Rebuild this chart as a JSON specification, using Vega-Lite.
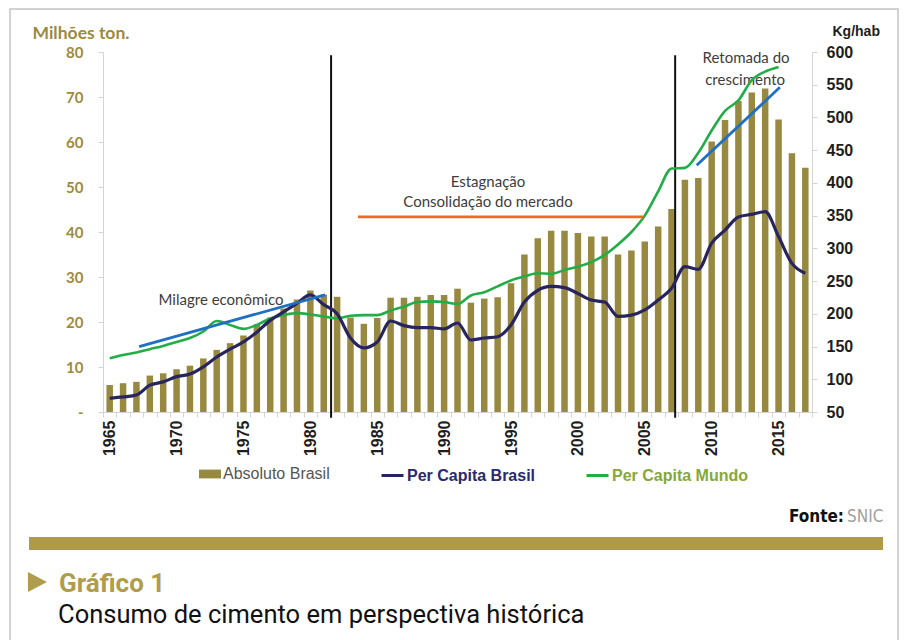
{
  "$schema": "https://vega.github.io/schema/vega-lite/v6.json",
  "width": 709,
  "height": 360,
  "autosize": {"type": "none"},
  "padding": {"left": 103, "top": 52, "right": 92, "bottom": 228},
  "background": "white",
  "config": {
    "view": {"stroke": null},
    "font": "Liberation Sans",
    "axis": {"labelOverlap": false, "labelFlush": false, "labelBound": false, "grid": false}
  },
  "datasets": {
    "serie": [
      {"ano": 1965, "absoluto": 6.0, "pcBrasil": 71, "pcMundo": 132},
      {"ano": 1966, "absoluto": 6.4, "pcBrasil": 73, "pcMundo": 137},
      {"ano": 1967, "absoluto": 6.7, "pcBrasil": 76, "pcMundo": 141},
      {"ano": 1968, "absoluto": 8.1, "pcBrasil": 91, "pcMundo": 146},
      {"ano": 1969, "absoluto": 8.6, "pcBrasil": 96, "pcMundo": 151},
      {"ano": 1970, "absoluto": 9.5, "pcBrasil": 104, "pcMundo": 157},
      {"ano": 1971, "absoluto": 10.3, "pcBrasil": 108, "pcMundo": 163},
      {"ano": 1972, "absoluto": 11.9, "pcBrasil": 119, "pcMundo": 173},
      {"ano": 1973, "absoluto": 13.8, "pcBrasil": 134, "pcMundo": 189},
      {"ano": 1974, "absoluto": 15.3, "pcBrasil": 146, "pcMundo": 183},
      {"ano": 1975, "absoluto": 17.0, "pcBrasil": 157, "pcMundo": 177},
      {"ano": 1976, "absoluto": 19.5, "pcBrasil": 172, "pcMundo": 183},
      {"ano": 1977, "absoluto": 21.0, "pcBrasil": 190, "pcMundo": 193},
      {"ano": 1978, "absoluto": 23.0, "pcBrasil": 203, "pcMundo": 198},
      {"ano": 1979, "absoluto": 25.0, "pcBrasil": 216, "pcMundo": 201},
      {"ano": 1980, "absoluto": 27.0, "pcBrasil": 229, "pcMundo": 199},
      {"ano": 1981, "absoluto": 26.1, "pcBrasil": 214, "pcMundo": 196},
      {"ano": 1982, "absoluto": 25.6, "pcBrasil": 200, "pcMundo": 193},
      {"ano": 1983, "absoluto": 21.0, "pcBrasil": 163, "pcMundo": 197},
      {"ano": 1984, "absoluto": 19.6, "pcBrasil": 148, "pcMundo": 198},
      {"ano": 1985, "absoluto": 20.9, "pcBrasil": 157, "pcMundo": 198},
      {"ano": 1986, "absoluto": 25.4, "pcBrasil": 189, "pcMundo": 205},
      {"ano": 1987, "absoluto": 25.4, "pcBrasil": 182, "pcMundo": 211},
      {"ano": 1988, "absoluto": 25.6, "pcBrasil": 179, "pcMundo": 218},
      {"ano": 1989, "absoluto": 26.0, "pcBrasil": 179, "pcMundo": 219},
      {"ano": 1990, "absoluto": 26.0, "pcBrasil": 177, "pcMundo": 218},
      {"ano": 1991, "absoluto": 27.4, "pcBrasil": 186, "pcMundo": 215},
      {"ano": 1992, "absoluto": 24.3, "pcBrasil": 160, "pcMundo": 228},
      {"ano": 1993, "absoluto": 25.2, "pcBrasil": 163, "pcMundo": 233},
      {"ano": 1994, "absoluto": 25.5, "pcBrasil": 165, "pcMundo": 242},
      {"ano": 1995, "absoluto": 28.6, "pcBrasil": 183, "pcMundo": 251},
      {"ano": 1996, "absoluto": 35.0, "pcBrasil": 218, "pcMundo": 257},
      {"ano": 1997, "absoluto": 38.6, "pcBrasil": 236, "pcMundo": 262},
      {"ano": 1998, "absoluto": 40.3, "pcBrasil": 242, "pcMundo": 261},
      {"ano": 1999, "absoluto": 40.3, "pcBrasil": 240, "pcMundo": 267},
      {"ano": 2000, "absoluto": 39.8, "pcBrasil": 231, "pcMundo": 272},
      {"ano": 2001, "absoluto": 39.0, "pcBrasil": 221, "pcMundo": 279},
      {"ano": 2002, "absoluto": 39.0, "pcBrasil": 218, "pcMundo": 290},
      {"ano": 2003, "absoluto": 35.0, "pcBrasil": 196, "pcMundo": 306},
      {"ano": 2004, "absoluto": 35.9, "pcBrasil": 198, "pcMundo": 325},
      {"ano": 2005, "absoluto": 37.9, "pcBrasil": 206, "pcMundo": 350},
      {"ano": 2006, "absoluto": 41.2, "pcBrasil": 221, "pcMundo": 387},
      {"ano": 2007, "absoluto": 45.1, "pcBrasil": 239, "pcMundo": 422},
      {"ano": 2008, "absoluto": 51.6, "pcBrasil": 272, "pcMundo": 423},
      {"ano": 2009, "absoluto": 52.0, "pcBrasil": 268, "pcMundo": 446},
      {"ano": 2010, "absoluto": 60.1, "pcBrasil": 308, "pcMundo": 480},
      {"ano": 2011, "absoluto": 64.9, "pcBrasil": 328, "pcMundo": 510},
      {"ano": 2012, "absoluto": 69.1, "pcBrasil": 348, "pcMundo": 526},
      {"ano": 2013, "absoluto": 71.0, "pcBrasil": 352, "pcMundo": 557},
      {"ano": 2014, "absoluto": 71.9, "pcBrasil": 356, "pcMundo": 570},
      {"ano": 2015, "absoluto": 65.0, "pcBrasil": 318, "pcMundo": 577},
      {"ano": 2016, "absoluto": 57.5, "pcBrasil": 277},
      {"ano": 2017, "absoluto": 54.3, "pcBrasil": 262}
    ],
    "tendencias": [
      {"trecho": "milagre", "tipo": "azul", "ano": 1967.2, "kg": 150},
      {"trecho": "milagre", "tipo": "azul", "ano": 1981.1, "kg": 229},
      {"trecho": "consolidacao", "tipo": "laranja", "ano": 1983.56, "kg": 348},
      {"trecho": "consolidacao", "tipo": "laranja", "ano": 2004.87, "kg": 348},
      {"trecho": "retomada", "tipo": "azul", "ano": 2008.88, "kg": 427},
      {"trecho": "retomada", "tipo": "azul", "ano": 2015.1, "kg": 546}
    ],
    "marcos": [{"ano": 1981.55}, {"ano": 2007.27}]
  },
  "layer": [
    {
      "layer": [
        {
          "data": {"name": "serie"},
          "mark": {"type": "bar", "size": 6.5},
          "encoding": {
            "x": {
              "field": "ano", "type": "quantitative",
              "scale": {"domain": [1964.5, 2017.5], "nice": false, "zero": false, "padding": 0},
              "axis": {
                "values": [1964.5,1965.5,1966.5,1967.5,1968.5,1969.5,1970.5,1971.5,1972.5,1973.5,1974.5,1975.5,1976.5,1977.5,1978.5,1979.5,1980.5,1981.5,1982.5,1983.5,1984.5,1985.5,1986.5,1987.5,1988.5,1989.5,1990.5,1991.5,1992.5,1993.5,1994.5,1995.5,1996.5,1997.5,1998.5,1999.5,2000.5,2001.5,2002.5,2003.5,2004.5,2005.5,2006.5,2007.5,2008.5,2009.5,2010.5,2011.5,2012.5,2013.5,2014.5,2015.5,2016.5,2017.5],
                "tickCount": 200,
                "labelExpr": "(datum.value + 0.5) % 5 === 0 ? format(datum.value + 0.5, 'd') : ''",
                "labelOffset": 6.69,
                "labelAngle": -90,
                "labelAlign": "right",
                "labelBaseline": "middle",
                "labelFont": "Liberation Sans",
                "labelFontWeight": "bold",
                "labelFontSize": 16,
                "labelColor": "#1e1e1e",
                "labelPadding": 3,
                "labelOverlap": false,
                "labelFlush": false,
                "labelBound": false,
                "tickSize": 5,
                "tickColor": "#d4d4d4",
                "domainColor": "#d4d4d4",
                "grid": false,
                "title": null
              }
            },
            "y": {
              "field": "absoluto", "type": "quantitative",
              "scale": {"domain": [0, 80], "nice": false, "padding": 0},
              "axis": {
                "values": [0, 10, 20, 30, 40, 50, 60, 70, 80],
                "tickCount": 100,
                "labelExpr": "datum.value === 0 ? '-' : datum.label",
                "labelFont": "Lato",
                "labelFontWeight": "bold",
                "labelFontSize": 15,
                "labelColor": "#9b8b3c",
                "labelPadding": 15,
                "labelOverlap": false,
                "tickSize": 5,
                "tickColor": "#d4d4d4",
                "domainColor": "#d4d4d4",
                "grid": false,
                "title": "Milhões ton.",
                "titleAngle": 0,
                "titleAlign": "left",
                "titleBaseline": "alphabetic",
                "titleX": -71,
                "titleY": -14,
                "titleFont": "Lato",
                "titleFontWeight": "bold",
                "titleFontSize": 17.5,
                "titleColor": "#9b8b3c"
              }
            },
            "fill": {
              "datum": "Absoluto Brasil",
              "scale": {"domain": ["Absoluto Brasil"], "range": ["#988940"]},
              "legend": {
                "orient": "none",
                "legendX": 96,
                "legendY": 411,
                "title": null,
                "padding": 0,
                "labelOffset": 2,
                "labelFont": "Liberation Sans",
                "labelFontSize": 16,
                "labelColor": "#555555",
                "labelLimit": 300,
                "symbolType": "M-1,-0.4H1V0.4H-1Z",
                "symbolSize": 484,
                "symbolStrokeWidth": 0
              }
            }
          }
        },
        {
          "data": {"values": [{}]},
          "mark": {"type": "rect", "filled": false, "color": "#c4c4c4", "strokeWidth": 1.5},
          "encoding": {
            "x": {"datum": 1957.55, "title": null},
            "x2": {"datum": 2023.93},
            "y": {"datum": 89.56, "title": "Milhões ton."},
            "y2": {"datum": -55}
          }
        },
        {
          "data": {"name": "marcos"},
          "mark": {"type": "rule", "color": "#111111", "strokeWidth": 2},
          "encoding": {
            "x": {"field": "ano", "type": "quantitative", "title": null},
            "y": {"datum": -1.3, "title": "Milhões ton."},
            "y2": {"datum": 79.3}
          }
        },
        {
          "data": {"values": [{}]},
          "mark": {"type": "text", "text": "Milagre econômico", "font": "Lato", "fontSize": 15, "color": "#3d3d3d", "align": "center", "baseline": "middle"},
          "encoding": {"x": {"datum": 1973.32, "title": null}, "y": {"datum": 24.9, "title": "Milhões ton."}}
        },
        {
          "data": {"values": [{}]},
          "mark": {"type": "text", "text": "Estagnação", "font": "Lato", "fontSize": 15, "color": "#3d3d3d", "align": "center", "baseline": "middle"},
          "encoding": {"x": {"datum": 1993.28, "title": null}, "y": {"datum": 51.1, "title": "Milhões ton."}}
        },
        {
          "data": {"values": [{}]},
          "mark": {"type": "text", "text": "Consolidação do mercado", "font": "Lato", "fontSize": 15, "color": "#3d3d3d", "align": "center", "baseline": "middle"},
          "encoding": {"x": {"datum": 1993.28, "title": null}, "y": {"datum": 46.7, "title": "Milhões ton."}}
        },
        {
          "data": {"values": [{}]},
          "mark": {"type": "text", "text": "Retomada do", "font": "Lato", "fontSize": 15, "color": "#3d3d3d", "align": "center", "baseline": "middle"},
          "encoding": {"x": {"datum": 2012.57, "title": null}, "y": {"datum": 78.7, "title": "Milhões ton."}}
        },
        {
          "data": {"values": [{}]},
          "mark": {"type": "text", "text": "crescimento", "font": "Lato", "fontSize": 15, "color": "#3d3d3d", "align": "center", "baseline": "middle"},
          "encoding": {"x": {"datum": 2012.5, "title": null}, "y": {"datum": 73.8, "title": "Milhões ton."}}
        },
        {
          "data": {"values": [{}]},
          "mark": {"type": "text", "text": "Fonte:", "font": "'Liberation Sans Narrow', 'DejaVu Sans Condensed', sans-serif", "fontWeight": "bold", "fontSize": 17, "color": "#111111", "align": "right", "baseline": "alphabetic"},
          "encoding": {"x": {"datum": 2019.89, "title": null}, "y": {"datum": -24.44, "title": "Milhões ton."}}
        },
        {
          "data": {"values": [{}]},
          "mark": {"type": "text", "text": "SNIC", "font": "'Liberation Sans Narrow', 'DejaVu Sans Condensed', sans-serif", "fontSize": 17, "color": "#a0a0a0", "align": "left", "baseline": "alphabetic"},
          "encoding": {"x": {"datum": 2020.12, "title": null}, "y": {"datum": -24.44, "title": "Milhões ton."}}
        },
        {
          "data": {"values": [{}]},
          "mark": {"type": "rect", "color": "#ae9a48"},
          "encoding": {
            "x": {"datum": 1958.97, "title": null},
            "x2": {"datum": 2022.81},
            "y": {"datum": -27.78, "title": "Milhões ton."},
            "y2": {"datum": -30.67}
          }
        },
        {
          "data": {"values": [{}]},
          "mark": {"type": "point", "shape": "M-0.95,-1L0.95,0L-0.95,1Z", "filled": true, "color": "#b09c4d", "size": 400, "opacity": 1, "strokeWidth": 0},
          "encoding": {"x": {"datum": 1959.6, "title": null}, "y": {"datum": -37.78, "title": "Milhões ton."}}
        },
        {
          "data": {"values": [{}]},
          "mark": {"type": "text", "text": "Gráfico 1", "font": "Roboto", "fontWeight": "bold", "fontSize": 26, "color": "#b09c4d", "align": "left", "baseline": "alphabetic"},
          "encoding": {"x": {"datum": 1961.21, "title": null}, "y": {"datum": -40.0, "title": "Milhões ton."}}
        },
        {
          "data": {"values": [{}]},
          "mark": {"type": "text", "text": "Consumo de cimento em perspectiva histórica", "font": "Roboto", "fontSize": 25.5, "color": "#111111", "align": "left", "baseline": "alphabetic"},
          "encoding": {"x": {"datum": 1961.14, "title": null}, "y": {"datum": -46.89, "title": "Milhões ton."}}
        }
      ]
    },
    {
      "layer": [
        {
          "data": {"name": "serie"},
          "mark": {"type": "line", "interpolate": "monotone", "strokeWidth": 2.6},
          "encoding": {
            "x": {"field": "ano", "type": "quantitative", "title": null},
            "y": {
              "field": "pcMundo", "type": "quantitative",
              "scale": {"domain": [50, 600], "nice": false, "zero": false, "padding": 0},
              "axis": {
                "orient": "right",
                "values": [50, 100, 150, 200, 250, 300, 350, 400, 450, 500, 550, 600],
                "tickCount": 100,
                "labelFont": "Liberation Sans",
                "labelFontWeight": "bold",
                "labelFontSize": 16,
                "labelColor": "#1e1e1e",
                "labelPadding": 9,
                "labelOverlap": false,
                "labelFlush": false,
                "labelBound": false,
                "tickSize": 5,
                "tickColor": "#d4d4d4",
                "domainColor": "#d4d4d4",
                "grid": false,
                "title": "Kg/hab",
                "titleAngle": 0,
                "titleAlign": "left",
                "titleBaseline": "alphabetic",
                "titleX": 20,
                "titleY": -17,
                "titleFont": "Liberation Sans",
                "titleFontWeight": "bold",
                "titleFontSize": 14,
                "titleColor": "#1e1e1e"
              }
            },
            "stroke": {
              "datum": "Per Capita Mundo",
              "scale": {"domain": ["Per Capita Mundo"], "range": ["#22ad47"]},
              "legend": {
                "orient": "none",
                "legendX": 482,
                "legendY": 411,
                "title": null,
                "padding": 0,
                "labelOffset": 2,
                "labelFont": "Liberation Sans",
                "labelFontSize": 16,
                "labelFontWeight": "bold",
                "labelColor": "#86a83a",
                "labelLimit": 300,
                "symbolType": "stroke",
                "symbolSize": 484,
                "symbolStrokeWidth": 3
              }
            }
          }
        },
        {
          "data": {"name": "serie"},
          "mark": {"type": "line", "interpolate": "monotone", "strokeWidth": 3.2},
          "encoding": {
            "x": {"field": "ano", "type": "quantitative", "title": null},
            "y": {"field": "pcBrasil", "type": "quantitative", "title": "Kg/hab"},
            "color": {
              "datum": "Per Capita Brasil",
              "scale": {"domain": ["Per Capita Brasil"], "range": ["#27245e"]},
              "legend": {
                "orient": "none",
                "legendX": 277,
                "legendY": 411,
                "title": null,
                "padding": 0,
                "labelOffset": 2,
                "labelFont": "Liberation Sans",
                "labelFontSize": 16,
                "labelFontWeight": "bold",
                "labelColor": "#2b2a6b",
                "labelLimit": 300,
                "symbolType": "stroke",
                "symbolSize": 484,
                "symbolStrokeWidth": 3
              }
            }
          }
        },
        {
          "data": {"name": "tendencias"},
          "transform": [{"filter": {"field": "tipo", "equal": "azul"}}],
          "mark": {"type": "line", "color": "#1f6fc3", "strokeWidth": 2.8},
          "encoding": {
            "x": {"field": "ano", "type": "quantitative", "title": null},
            "y": {"field": "kg", "type": "quantitative", "title": "Kg/hab"},
            "detail": {"field": "trecho"}
          }
        },
        {
          "data": {"name": "tendencias"},
          "transform": [{"filter": {"field": "tipo", "equal": "laranja"}}],
          "mark": {"type": "line", "color": "#ee6a1c", "strokeWidth": 2.8},
          "encoding": {
            "x": {"field": "ano", "type": "quantitative", "title": null},
            "y": {"field": "kg", "type": "quantitative", "title": "Kg/hab"},
            "detail": {"field": "trecho"}
          }
        }
      ]
    }
  ],
  "resolve": {"scale": {"y": "independent"}}
}
